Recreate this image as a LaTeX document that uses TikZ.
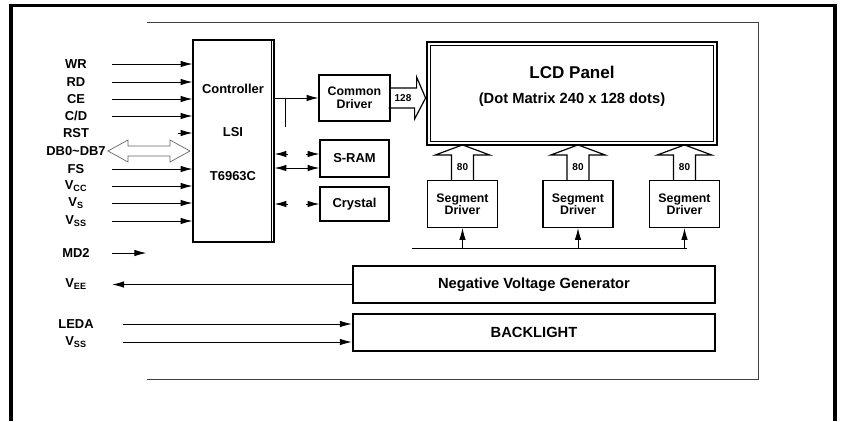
\documentclass[tikz,border=0pt]{standalone}
\usepackage{fontspec}
\setmainfont{Liberation Sans}
\usetikzlibrary{arrows.meta}

\begin{document}
\begin{tikzpicture}[x=0.85pt, y=-0.85pt,
    pinlabel/.style={minimum width=61.2pt, inner sep=0pt, font=\fontsize{11}{13}\selectfont\bfseries},
    block/.style={draw, line width=1pt, inner sep=0pt, align=center, font=\fontsize{11}{12}\selectfont\bfseries},
    thickblock/.style={block, line width=2.2pt, font=\fontsize{12.5}{14}\selectfont\bfseries},
    wire/.style={line width=0.7pt},
    sig/.style={wire, -{Latex[length=10pt, width=5.5pt]}},
    bidir/.style={wire, {Latex[length=10pt, width=5.5pt]}-{Latex[length=10pt, width=5.5pt]}},
    busarrow/.style={line width=1pt, line join=miter},
    buslabel/.style={inner sep=0pt, font=\fontsize{8.5}{8.5}\selectfont\bfseries}]

    \useasboundingbox (0,0) rectangle (845,421);

    % Frames
    \draw[line width=2.6pt] (11,421) -- (11,5.5) -- (835,5.5) -- (835,421);
    \draw[line width=0.6pt, black!75] (147,22) -- (758,22) -- (758,379) -- (147,379);

    % Blocks
    \node[block, minimum width=68.85pt, minimum height=171.7pt] (ctrl) at (233.5,141) {};
    \draw[line width=0.8pt] ([xshift=-3pt]ctrl.north east) -- ([xshift=-3pt]ctrl.south east);
    \node[align=center, font=\fontsize{11}{13}\selectfont\bfseries] (ctrltext) at (233,132)
        {Controller\\[24pt]LSI\\[24pt]T6963C};

    \node[block, minimum width=60.35pt, minimum height=39.1pt, font=\fontsize{10.5}{11}\selectfont\bfseries] (comdrv) at (354.5,98) {Common\\Driver};
    \node[block, minimum width=58.65pt, minimum height=31.45pt] (sram) at (354.5,158.5) {S-RAM};
    \node[block, minimum width=58.65pt, minimum height=28.9pt] (crystal) at (354.5,204) {Crystal};

    \node[draw, line width=2.4pt, inner sep=0pt, minimum width=246.5pt, minimum height=87.55pt] (lcd) at (572,93.5) {};
    \draw[line width=0.6pt] ([shift={(5,5)}]lcd.north west) rectangle ([shift={(-5,-5)}]lcd.south east);
    \node[font=\fontsize{14.5}{16}\selectfont\bfseries] (lcdtitle) at (572,72) {LCD Panel};
    \node[font=\fontsize{12.5}{14}\selectfont\bfseries] (lcdsub) at (572,100) {(Dot Matrix 240 x 128 dots)};

    \node[block, minimum width=59.5pt, minimum height=39.95pt, font=\fontsize{10.5}{10.5}\selectfont\bfseries] (seg1) at (462.5,204) {Segment\\Driver};
    \node[block, minimum width=59.5pt, minimum height=39.95pt, font=\fontsize{10.5}{10.5}\selectfont\bfseries] (seg2) at (578,204) {Segment\\Driver};
    \node[block, minimum width=59.5pt, minimum height=39.95pt, font=\fontsize{10.5}{10.5}\selectfont\bfseries] (seg3) at (684.5,204) {Segment\\Driver};

    \node[thickblock, minimum width=307.7pt, minimum height=31.45pt] (nvg) at (534,284.5) {Negative Voltage Generator};
    \node[thickblock, minimum width=307.7pt, minimum height=31.45pt] (bl) at (534,332.5) {BACKLIGHT};

    % Pins
    \foreach \name/\txt/\y in {wr/WR/64, rd/RD/82, ce/CE/99, cd/{C/D}/116, rst/RST/133,
        db/DB0\textasciitilde DB7/151, fs/FS/169, vcc/V\textsubscript{CC}/186,
        vs/V\textsubscript{S}/203, vss/V\textsubscript{SS}/221}
        \node[pinlabel] (\name) at (76,\y) {\txt};
    \node[pinlabel] (md2) at (76,253) {MD2};
    \node[pinlabel] (vee) at (76,284.5) {V\textsubscript{EE}};
    \node[pinlabel] (leda) at (76,324) {LEDA};
    \node[pinlabel] (vssb) at (76,342) {V\textsubscript{SS}};

    % Inputs to the controller
    \foreach \name in {wr,rd,ce,cd,fs,vcc,vs,vss}
        \draw[sig] (\name.east) -- (ctrl.west |- \name);
    \draw[sig] ([xshift=56pt]rst.east) -- (ctrl.west |- rst);
    \draw[line width=0.6pt, black!60] (108,151) -- (128,140) -- (128,146) -- (170,146) -- (170,140) -- (190,151)
        -- (170,162) -- (170,156) -- (128,156) -- (128,162) -- cycle;
    \draw[sig] (md2.east) -- ++(34,0);

    % Controller side
    \draw[sig] (ctrl.east |- comdrv) -- (comdrv.west);
    \draw[wire] (285,98) -- (285,127);
    \coordinate (r1) at (sram.west |- 0,154);
    \coordinate (r2) at (sram.west |- 0,168);
    \coordinate (r3) at (crystal.west);
    \coordinate (c1) at (ctrl.east |- r1);
    \coordinate (c3) at (ctrl.east |- r3);
    \draw[sig] ([xshift=11pt]c1) -- (c1);
    \draw[sig] ([xshift=-11pt]r1) -- (r1);
    \draw[bidir] (ctrl.east |- r2) -- (r2);
    \draw[sig] ([xshift=11pt]c3) -- (c3);
    \draw[sig] ([xshift=-11pt]r3) -- (r3);

    % 128 bus
    \draw[busarrow] ([yshift=8.5pt]comdrv.east) -- ++(26,0) -- ++(0,-11) -- (lcd.west |- comdrv)
        -- ++(-11,21) -- ++(0,-11) -- ++(-26,0);
    \node[buslabel] (n128) at (403,98) {128};

    % 80 buses
    \foreach \s in {seg1,seg2,seg3} {
        \draw[busarrow] ([xshift=-9.35pt]\s.north) -- ++(0,-25) -- ++(-16,0) -- ++(27,-10)
            -- ++(27,10) -- ++(-16,0) -- ++(0,25);
        \node[buslabel] at ([yshift=11pt]\s.north) {80};
    }

    % Segment bus
    \coordinate (busL) at (412,248);
    \coordinate (busR) at (687,248);
    \draw[wire] (busL) -- (busR);
    \foreach \s in {seg1,seg2,seg3}
        \draw[sig] (\s.south |- busL) -- (\s.south);

    % Power and backlight
    \draw[sig] (nvg.west) -- (vee.east);
    \draw[sig] ([xshift=9.35pt]leda.east) -- (bl.west |- leda);
    \draw[sig] ([xshift=9.35pt]vssb.east) -- (bl.west |- vssb);
\end{tikzpicture}
\end{document}
